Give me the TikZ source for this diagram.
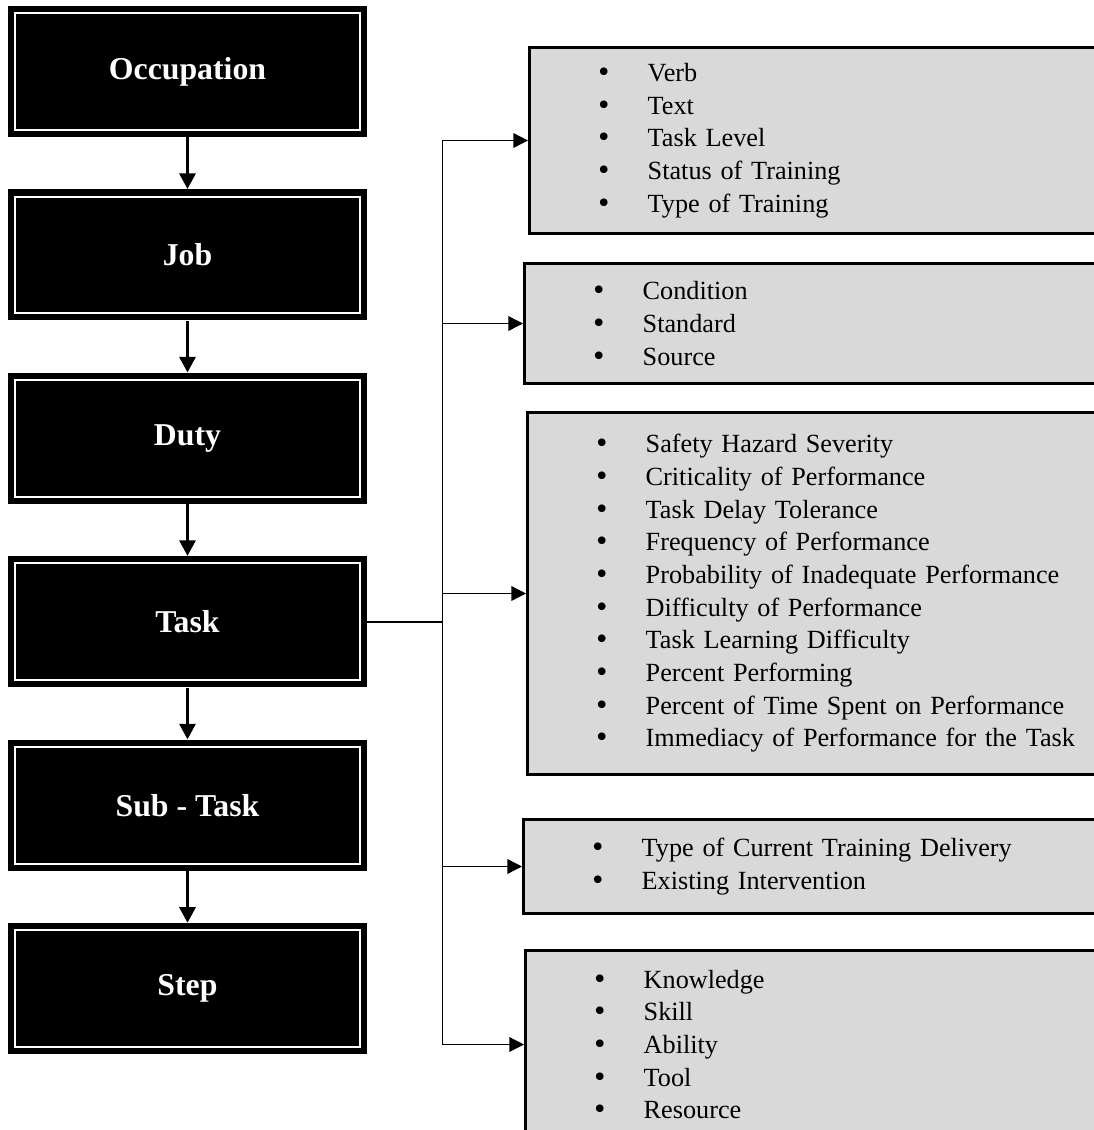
\documentclass[tikz,border=0pt]{standalone}
\usepackage{fontspec}
\setmainfont{Liberation Serif}
\newfontfamily\bltfont{DejaVu Sans}
\usepackage{xcolor}
\usepackage{tikz}
\usetikzlibrary{positioning,calc,arrows.meta}

\definecolor{boxgray}{HTML}{D9D9D9}
\newcommand{\itm}[1]{\makebox[21.2pt][l]{\hspace{-2pt}\bltfont •}#1}

\begin{document}
\begin{tikzpicture}[x=0.45pt,y=-0.45pt,
    lvl/.style={fill=black,text=white,minimum width=161.55pt,minimum height=58.95pt,inner sep=0pt,
      font=\fontsize{14.3}{16}\selectfont\bfseries,
      path picture={\draw[white,line width=0.9pt] ([shift={(3.2pt,-3.2pt)}]path picture bounding box.north west) rectangle ([shift={(-3.2pt,3.2pt)}]path picture bounding box.south east);}},
    info/.style={anchor=north west,fill=boxgray,draw=black,line width=1.35pt,text width=260pt,
      inner xsep=32pt,inner ysep=0pt,align=left,font=\fontsize{11.8}{14.7}\selectfont},
    down/.style={line width=1.35pt,-{Triangle[width=7.2pt,length=7pt]}},
    branch/.style={line width=0.6pt,-{Triangle[width=6.6pt,length=6.6pt]}}]
    \clip (0,0) rectangle (1094,1130);

    % Levels
    \node[lvl] (occ) at (187.5,71.5) {Occupation};
    \node[lvl,below=23.2pt of occ] (job) {Job};
    \node[lvl,below=23.2pt of job] (duty) {Duty};
    \node[lvl,below=23.2pt of duty] (task) {Task};
    \node[lvl,below=23.2pt of task] (sub) {Sub - Task};
    \node[lvl,below=23.2pt of sub] (stp) {Step};
    \foreach \a/\b in {occ/job,job/duty,duty/task,task/sub,sub/stp}
        \draw[down] (\a) -- (\b);

    % Task attributes
    \node[info,minimum height=83.7pt] (verb) at (528,46)
        {\itm{Verb}\\ \itm{Text}\\ \itm{Task Level}\\ \itm{Status of Training}\\ \itm{Type of Training}};
    \node[info,minimum height=54pt] (cond) at (523,262)
        {\itm{Condition}\\ \itm{Standard}\\ \itm{Source}};
    \node[info,minimum height=162.9pt] (crit) at (526,411)
        {\itm{Safety Hazard Severity}\\ \itm{Criticality of Performance}\\ \itm{Task Delay Tolerance}\\
         \itm{Frequency of Performance}\\ \itm{Probability of Inadequate Performance}\\
         \itm{Difficulty of Performance}\\ \itm{Task Learning Difficulty}\\ \itm{Percent Performing}\\
         \itm{Percent of Time Spent on Performance}\\ \itm{Immediacy of Performance for the Task}};
    \node[info,minimum height=42.3pt] (deliv) at (522,818)
        {\itm{Type of Current Training Delivery}\\ \itm{Existing Intervention}};
    \node[info,minimum height=84.6pt] (ksa) at (524,949)
        {\itm{Knowledge}\\ \itm{Skill}\\ \itm{Ability}\\ \itm{Tool}\\ \itm{Resource}};

    % Branching from Task
    \coordinate (jn) at ([xshift=33.75pt]task.east);
    \draw[line width=0.6pt] (task.east) -- (jn);
    \draw[line width=0.6pt,line cap=rect] (jn |- verb.west) -- (jn |- ksa.west);
    \foreach \b in {verb,cond,crit,deliv,ksa}
        \draw[branch] (jn |- \b.west) -- (\b.west);
\end{tikzpicture}
\end{document}
